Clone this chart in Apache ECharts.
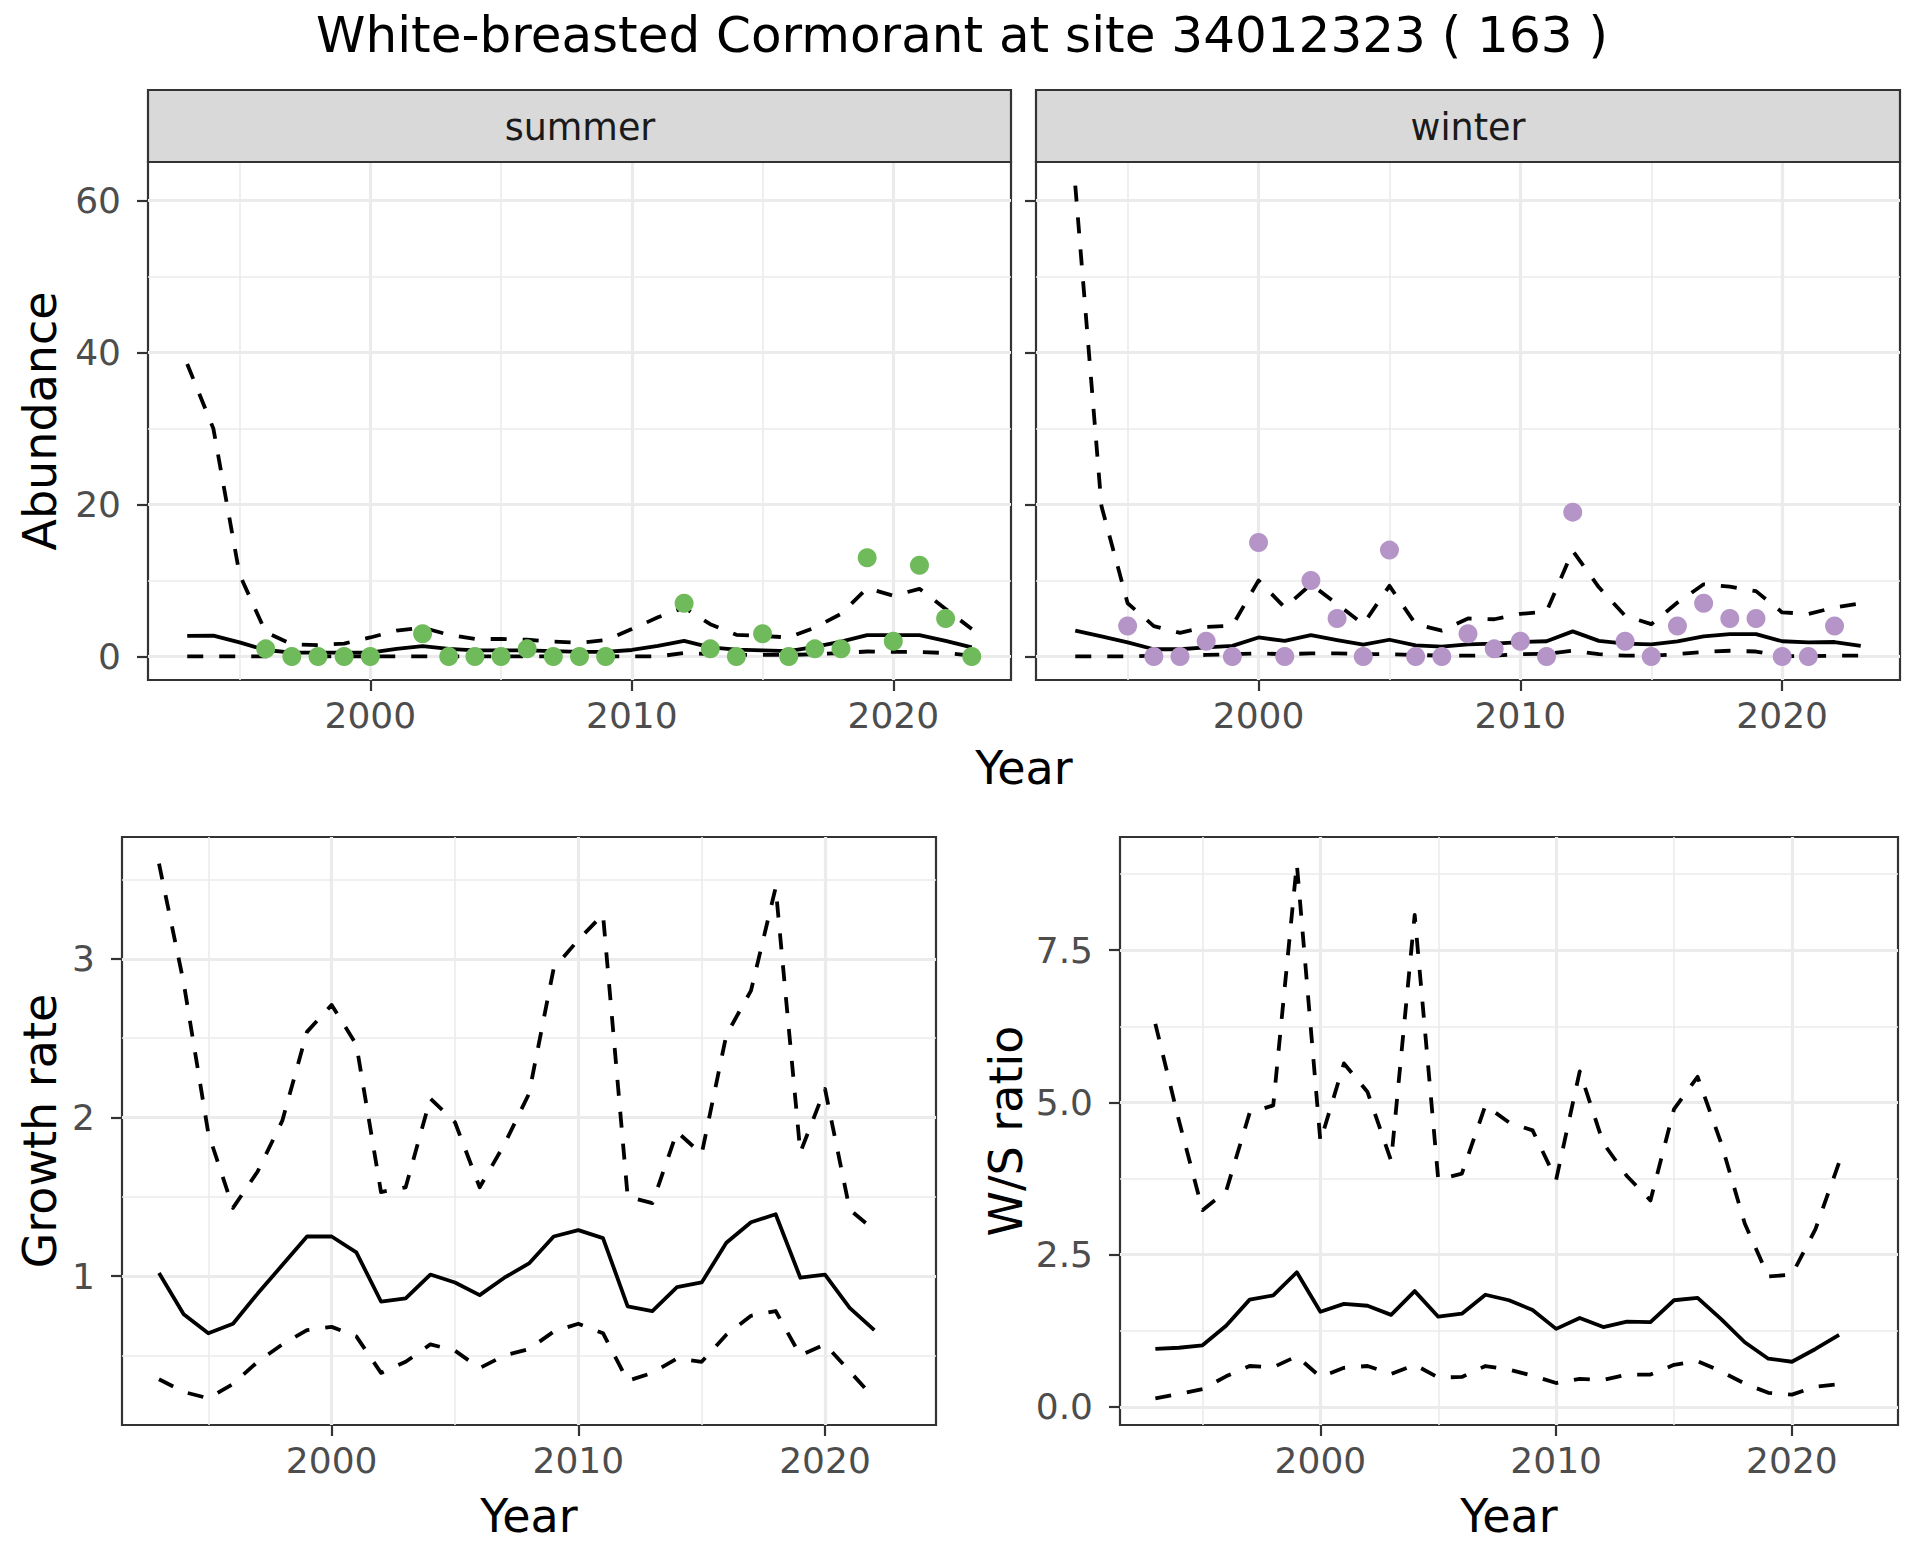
<!DOCTYPE html>
<html><head><meta charset="utf-8">
<script src="https://cdn.jsdelivr.net/npm/echarts@6/dist/echarts.min.js"></script>
<style>html,body{margin:0;padding:0;background:#fff}#c{width:1920px;height:1560px}</style>
</head><body><div id="c"></div>
<script>
// ---------- data ----------
const yearsTop = [1993,1994,1995,1996,1997,1998,1999,2000,2001,2002,2003,2004,2005,2006,2007,2008,2009,2010,2011,2012,2013,2014,2015,2016,2017,2018,2019,2020,2021,2022,2023];
const yearsBottom = [1993,1994,1995,1996,1997,1998,1999,2000,2001,2002,2003,2004,2005,2006,2007,2008,2009,2010,2011,2012,2013,2014,2015,2016,2017,2018,2019,2020,2021,2022];

const summerObs   = [null,null,null,1,0,0,0,0,null,3,0,0,0,1,0,0,0,null,null,7,1,0,3,0,1,1,13,2,12,5,0];
const summerMean  = [2.7,2.75,1.85,0.85,0.5,0.5,0.5,0.5,1.0,1.35,1.0,0.8,0.8,0.8,0.7,0.6,0.6,0.85,1.4,2.05,1.2,0.9,0.8,0.7,1.25,1.95,2.8,2.8,2.8,2.05,1.2];
const summerUpper = [38.5,30.0,10.8,3.2,1.6,1.5,1.7,2.5,3.4,3.8,2.85,2.3,2.3,2.2,1.95,1.8,2.15,3.6,5.15,6.45,4.25,2.85,2.7,2.5,3.8,5.6,9.0,8.0,8.9,6.25,3.6];
const summerLower = [0,0,0,0,0,0,0,0,0,0,0,0,0,0,0,0,0,0,0,0.45,0.3,0.2,0.2,0.2,0.3,0.45,0.65,0.6,0.6,0.45,0.1];

const winterObs   = [null,null,4,0,0,2,0,15,0,10,5,0,14,0,0,3,1,2,0,19,null,2,0,4,7,5,5,0,0,4,null];
const winterMean  = [3.4,2.65,1.85,0.95,0.95,1.2,1.4,2.5,2.05,2.8,2.15,1.55,2.2,1.45,1.3,1.6,1.7,1.9,2.0,3.3,2.05,1.7,1.6,2.0,2.65,2.95,2.95,2.0,1.85,1.9,1.4];
const winterUpper = [62,19.8,7.0,4.0,3.1,3.9,4.05,10.0,6.45,9.5,6.9,4.25,9.3,4.25,3.4,5.0,4.9,5.6,5.9,13.9,9.1,5.35,4.25,7.1,9.5,9.2,8.6,5.8,5.6,6.45,7.0];
const winterLower = [0,0,0,0.1,0.1,0.2,0.3,0.4,0.3,0.4,0.4,0.3,0.3,0.2,0.1,0.1,0.1,0.3,0.35,0.75,0.3,0.1,0.1,0.3,0.6,0.75,0.65,0.05,0.05,0.1,0.1];

const growthMean  = [1.02,0.76,0.64,0.70,0.89,1.07,1.25,1.25,1.15,0.84,0.86,1.01,0.96,0.88,0.99,1.08,1.25,1.29,1.24,0.81,0.78,0.93,0.96,1.21,1.34,1.39,0.99,1.01,0.80,0.66];
const growthUpper = [3.60,2.85,1.90,1.43,1.66,1.98,2.54,2.71,2.46,1.53,1.56,2.12,1.97,1.56,1.83,2.15,2.94,3.12,3.28,1.50,1.46,1.91,1.77,2.52,2.80,3.45,1.78,2.18,1.42,1.29];
const growthLower = [0.35,0.27,0.23,0.32,0.46,0.57,0.66,0.68,0.62,0.39,0.46,0.57,0.53,0.42,0.50,0.54,0.65,0.70,0.64,0.34,0.39,0.48,0.46,0.63,0.75,0.78,0.50,0.57,0.40,0.23];

const wsMean  = [0.95,0.97,1.01,1.33,1.76,1.83,2.21,1.56,1.69,1.66,1.51,1.90,1.48,1.53,1.84,1.75,1.59,1.28,1.46,1.31,1.40,1.39,1.75,1.79,1.44,1.06,0.79,0.74,0.95,1.18];
const wsUpper = [6.29,4.70,3.23,3.54,4.83,4.95,8.92,4.36,5.64,5.17,4.04,8.08,3.73,3.83,4.95,4.67,4.54,3.73,5.51,4.33,3.79,3.39,4.89,5.42,4.33,3.01,2.14,2.17,2.92,4.01];
const wsLower = [0.14,0.21,0.29,0.50,0.67,0.65,0.83,0.49,0.64,0.67,0.54,0.69,0.48,0.49,0.67,0.61,0.51,0.39,0.46,0.44,0.53,0.53,0.69,0.75,0.58,0.38,0.23,0.20,0.33,0.37];

// ticks
const yearTicks = [2000,2010,2020];
const yearTickLabels = ['2000','2010','2020'];
const yearMinor = [1995,2005,2015];
const abundanceTicks = [0,20,40,60];
const abundanceTickLabels = ['0','20','40','60'];
const abundanceMinor = [10,30,50];
const growthTicks = [1,2,3];
const growthTickLabels = ['1','2','3'];
const growthMinor = [0.5,1.5,2.5,3.5];
const wsTicks = [0,2.5,5,7.5];
const wsTickLabels = ['0.0','2.5','5.0','7.5'];
const wsMinor = [1.25,3.75,6.25,8.75];

const titleText = 'White-breasted Cormorant at site 34012323 ( 163 )';
const facetNames = ['summer','winter'];

// ---------- helpers ----------
const FONT = 'DejaVu Sans';
const TICK_FS = 36;
const AXTITLE_FS = 46;
const summerColor = '#6FBB5B';
const winterColor = '#B594C8';

function expand(arrs, mult) {
  let lo = Infinity, hi = -Infinity;
  arrs.forEach(a => a.forEach(v => { if (v != null) { lo = Math.min(lo, v); hi = Math.max(hi, v); } }));
  const d = (hi - lo) * mult;
  return [lo - d, hi + d];
}
const xTop = expand([yearsTop], 0.05);
const xBot = [1991.5, 2024.5];
const yTop = expand([summerObs, summerMean, summerUpper, summerLower, winterObs, winterMean, winterUpper, winterLower], 0.05);
const yGrowth = expand([growthMean, growthUpper, growthLower], 0.05);
const yWs = expand([wsMean, wsUpper, wsLower], 0.05);

function pairs(xs, ys) {
  const out = [];
  xs.forEach((x, i) => { if (ys[i] != null) out.push([x, ys[i]]); });
  return out;
}

const grids = [
  {left: 148, top: 162, width: 863, height: 518},
  {left: 1036, top: 162, width: 864, height: 518},
  {left: 122, top: 837, width: 814, height: 588},
  {left: 1120, top: 837, width: 778, height: 588}
].map(g => Object.assign({show: true, backgroundColor: '#fff', borderColor: '#333333', borderWidth: 2.2}, g));

function xAxis(gi, range, margin) {
  return {
    gridIndex: gi, type: 'value', min: range[0], max: range[1],
    axisLine: {show: false, onZero: false},
    axisTick: {show: true, length: 11, lineStyle: {color: '#333333', width: 2.2}, customValues: yearTicks},
    axisLabel: {show: true, customValues: yearTicks, color: '#4D4D4D', fontSize: TICK_FS, fontFamily: FONT, margin: margin,
      formatter: v => yearTickLabels[yearTicks.indexOf(v)]},
    splitLine: {show: false}
  };
}
function yAxis(gi, range, ticks, labels, showLabels) {
  return {
    gridIndex: gi, type: 'value', min: range[0], max: range[1],
    axisLine: {show: false, onZero: false},
    axisTick: {show: true, length: 11, lineStyle: {color: '#333333', width: 2.2}, customValues: ticks},
    axisLabel: {show: showLabels, customValues: ticks, color: '#4D4D4D', fontSize: TICK_FS, fontFamily: FONT, margin: 27,
      formatter: v => labels[ticks.indexOf(v)]},
    splitLine: {show: false}
  };
}
function gridSeries(gi, xMaj, xMin, yMaj, yMin) {
  const maj = {color: '#EBEBEB', width: 3.2, type: 'solid'};
  const mnr = {color: '#EBEBEB', width: 1.6, type: 'solid'};
  const d = [];
  xMin.forEach(v => d.push({xAxis: v, lineStyle: mnr}));
  yMin.forEach(v => d.push({yAxis: v, lineStyle: mnr}));
  xMaj.forEach(v => d.push({xAxis: v, lineStyle: maj}));
  yMaj.forEach(v => d.push({yAxis: v, lineStyle: maj}));
  return {type: 'line', xAxisIndex: gi, yAxisIndex: gi, data: [], silent: true, z: 1, zlevel: 0,
    markLine: {silent: true, z: 1, zlevel: 0, symbol: ['none', 'none'], label: {show: false}, animation: false, data: d}};
}
function lineSeries(gi, xs, ys, dashed) {
  return {type: 'line', xAxisIndex: gi, yAxisIndex: gi, data: pairs(xs, ys), showSymbol: false, symbol: 'none',
    silent: true, z: 3, lineStyle: {color: '#000', width: 3.8, type: dashed ? [16, 16] : 'solid', cap: 'butt', join: 'round'}};
}
function pointSeries(gi, xs, ys, color) {
  return {type: 'scatter', xAxisIndex: gi, yAxisIndex: gi, data: pairs(xs, ys), symbolSize: 19, silent: true, z: 4,
    itemStyle: {color: color, opacity: 1}};
}

const series = [
  gridSeries(0, yearTicks, yearMinor, abundanceTicks, abundanceMinor),
  gridSeries(1, yearTicks, yearMinor, abundanceTicks, abundanceMinor),
  gridSeries(2, yearTicks, yearMinor, growthTicks, growthMinor),
  gridSeries(3, yearTicks, yearMinor, wsTicks, wsMinor),
  lineSeries(0, yearsTop, summerMean, false),
  lineSeries(0, yearsTop, summerUpper, true),
  lineSeries(0, yearsTop, summerLower, true),
  pointSeries(0, yearsTop, summerObs, summerColor),
  lineSeries(1, yearsTop, winterMean, false),
  lineSeries(1, yearsTop, winterUpper, true),
  lineSeries(1, yearsTop, winterLower, true),
  pointSeries(1, yearsTop, winterObs, winterColor),
  lineSeries(2, yearsBottom, growthMean, false),
  lineSeries(2, yearsBottom, growthUpper, true),
  lineSeries(2, yearsBottom, growthLower, true),
  lineSeries(3, yearsBottom, wsMean, false),
  lineSeries(3, yearsBottom, wsUpper, true),
  lineSeries(3, yearsBottom, wsLower, true)
];

function txt(x, y, s, size, fill, opts) {
  return Object.assign({type: 'text', x: x, y: y, silent: true, z: 10,
    style: {text: s, fill: fill || '#000', font: size + 'px "' + FONT + '"', textAlign: 'center', textVerticalAlign: 'middle'}}, opts || {});
}
const graphics = [
  txt(962, 35, titleText, 50),
  {type: 'rect', shape: {x: 148, y: 90, width: 863, height: 72}, silent: true, z: 5,
    style: {fill: '#D9D9D9', stroke: '#333333', lineWidth: 2.2}},
  {type: 'rect', shape: {x: 1036, y: 90, width: 864, height: 72}, silent: true, z: 5,
    style: {fill: '#D9D9D9', stroke: '#333333', lineWidth: 2.2}},
  txt(580, 127, facetNames[0], 36.5, '#1A1A1A'),
  txt(1468, 127, facetNames[1], 36.5, '#1A1A1A'),
  txt(40, 421, 'Abundance', AXTITLE_FS, '#000', {rotation: Math.PI / 2}),
  txt(1024, 768, 'Year', AXTITLE_FS),
  txt(40, 1131, 'Growth rate', AXTITLE_FS, '#000', {rotation: Math.PI / 2}),
  txt(529, 1516, 'Year', AXTITLE_FS),
  txt(1006, 1131, 'W/S ratio', AXTITLE_FS, '#000', {rotation: Math.PI / 2}),
  txt(1509, 1516, 'Year', AXTITLE_FS)
];

const chart = echarts.init(document.getElementById('c'), null, {renderer: 'svg', width: 1920, height: 1560});
chart.setOption({
  animation: false,
  backgroundColor: '#ffffff',
  grid: grids,
  xAxis: [xAxis(0, xTop, 17), xAxis(1, xTop, 17), xAxis(2, xBot, 17), xAxis(3, xBot, 17)],
  yAxis: [yAxis(0, yTop, abundanceTicks, abundanceTickLabels, true), yAxis(1, yTop, abundanceTicks, abundanceTickLabels, false),
          yAxis(2, yGrowth, growthTicks, growthTickLabels, true), yAxis(3, yWs, wsTicks, wsTickLabels, true)],
  series: series,
  graphic: graphics
});
</script>
</body></html>
